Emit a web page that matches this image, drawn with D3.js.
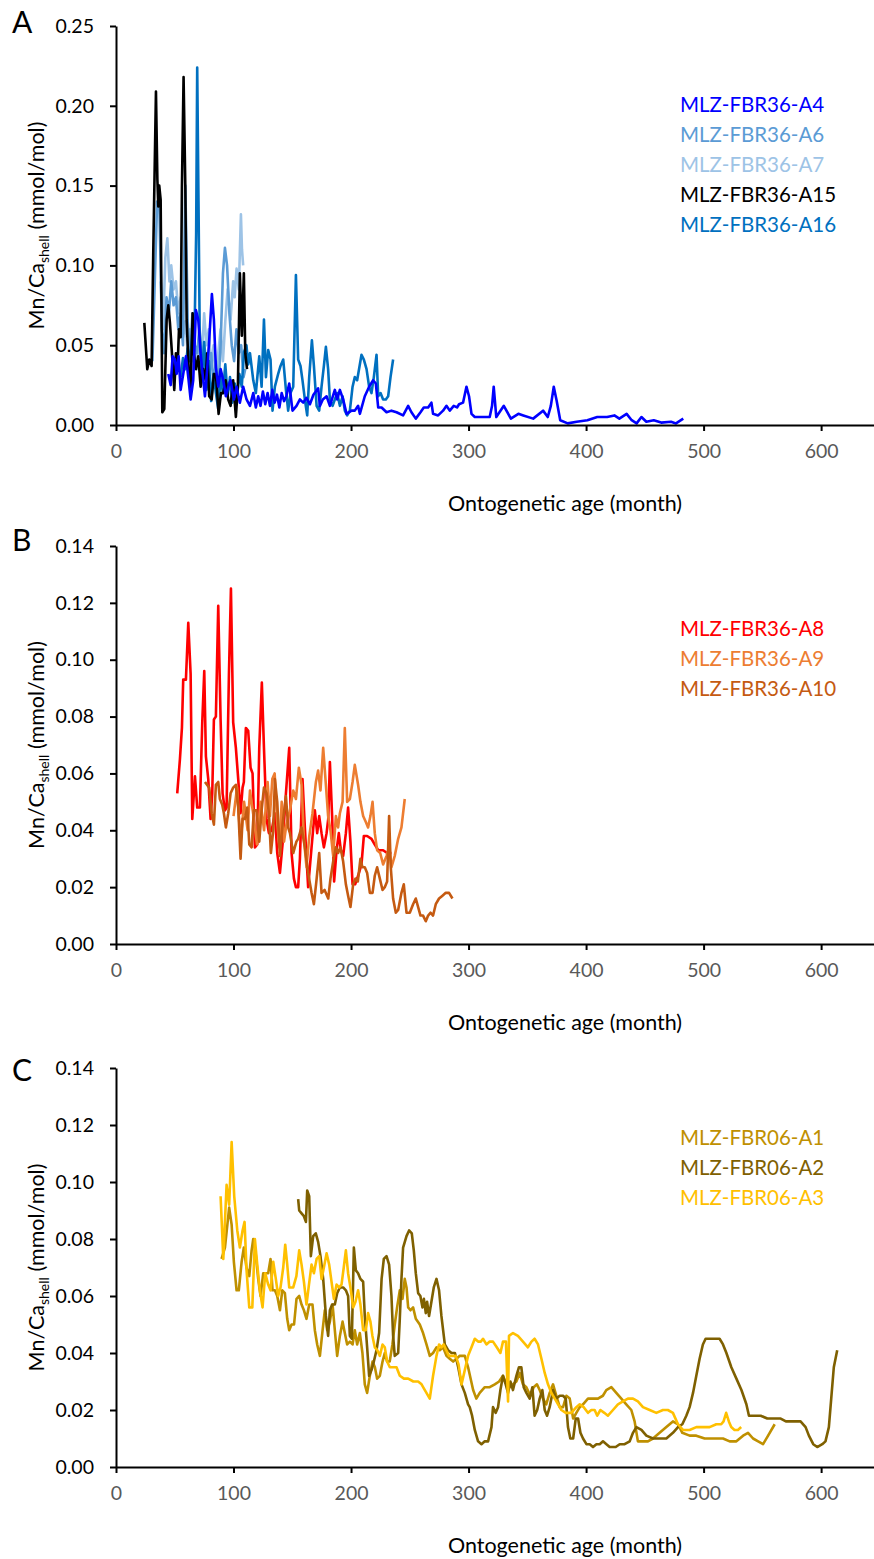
<!DOCTYPE html>
<html><head><meta charset="utf-8">
<script src="https://cdn.jsdelivr.net/npm/d3@7"></script>
<style>
html,body{margin:0;padding:0;background:#fff;}
svg{display:block;font-family:Lato,"Open Sans",sans-serif;}
</style></head>
<body>
<svg id="chart" width="874" height="1559"></svg>
<script>
// ---------------- DATA ----------------
const xTicks = [0, 100, 200, 300, 400, 500, 600];
const yTicksA = [0, 0.05, 0.10, 0.15, 0.20, 0.25];
const yTicksBC = [0, 0.02, 0.04, 0.06, 0.08, 0.10, 0.12, 0.14];
const xTitle = "Ontogenetic age (month)";
const panelLetters = ["A", "B", "C"];

// Panel A series [age, Mn/Ca]
const a4 = [[44.5,0.032],[46.5,0.025],[48.2,0.043],[50.2,0.041],[51.6,0.032],[53.3,0.043],[55,0.022],[57.2,0.032],[59.5,0.043],[61.8,0.028],[63.5,0.016],[65.7,0.028],[68,0.072],[70,0.066],[72,0.045],[73.7,0.032],[75.7,0.018],[77.6,0.035],[79.3,0.053],[81.6,0.082],[83.3,0.066],[85,0.036],[87,0.024],[89,0.035],[91.3,0.028],[93.5,0.018],[95.5,0.024],[97.5,0.028],[100.3,0.016],[102.6,0.024],[105.4,0.014],[108.2,0.024],[111.1,0.016],[114,0.012],[116.8,0.020],[119,0.011],[121,0.018],[123,0.012],[125,0.021],[127,0.013],[129,0.020],[131,0.012],[133,0.022],[135,0.014],[137,0.019],[139,0.011],[141,0.020],[143,0.015],[145,0.018],[147.4,0.026],[150.2,0.009],[153.6,0.012],[156.5,0.016],[159.3,0.014],[162,0.017],[165,0.013],[168,0.019],[172,0.023],[173.5,0.012],[176,0.016],[179.2,0.018],[182,0.012],[186.2,0.022],[188.2,0.016],[190.5,0.022],[193.3,0.016],[196.2,0.007],[200.4,0.009],[203.2,0.009],[206,0.012],[207.5,0.007],[211.7,0.018],[215.4,0.024],[218.8,0.028],[221.1,0.026],[223.1,0.011],[226,0.011],[230.2,0.008],[234.4,0.009],[238.7,0.008],[244.3,0.006],[248.6,0.012],[251.4,0.008],[255.1,0.004],[259.1,0.008],[261.9,0.011],[265.6,0.011],[268.4,0.014],[269.8,0.007],[274.1,0.006],[278.3,0.009],[281.2,0.012],[284,0.009],[287.4,0.012],[290.2,0.011],[291.9,0.013],[295.3,0.014],[298.2,0.024],[300.4,0.018],[302.5,0.007],[305.3,0.005],[309.5,0.005],[313.8,0.005],[318,0.005],[320,0.012],[321.4,0.024],[323.6,0.005],[330,0.012],[336,0.004],[342.4,0.007],[346.6,0.006],[355,0.004],[363.4,0.009],[367.4,0.005],[370,0.012],[372.5,0.024],[375,0.015],[378,0.003],[384.4,0.001],[392,0.002],[401.1,0.003],[409.5,0.005],[417.9,0.005],[424.1,0.006],[428.3,0.004],[434.5,0.007],[438.8,0.003],[443,0.001],[447.1,0.005],[451.3,0.002],[457.6,0.003],[463.9,0.0015],[472.3,0.002],[476.5,0.001],[482.7,0.004]];
const a6 = [[31,0.040],[33,0.090],[35,0.140],[37,0.135],[39,0.060],[41,0.045],[43,0.080],[45,0.070],[47,0.090],[49,0.075],[51,0.080],[53,0.060],[55,0.070],[57,0.050],[59,0.150],[61,0.065],[63,0.040],[65,0.070],[67,0.050],[69,0.045],[71,0.060],[73,0.030],[75,0.050],[77,0.040],[79,0.030],[81,0.045],[83,0.025],[85,0.040],[87,0.020],[89,0.050],[91,0.095],[92.7,0.111],[94.5,0.100],[96.5,0.070],[98.5,0.050],[100.5,0.040],[102.5,0.060],[104.5,0.045],[106.5,0.050],[108.5,0.030],[110,0.035]];
const a7 = [[38,0.090],[40,0.060],[42,0.105],[43.7,0.117],[45.5,0.090],[47,0.100],[49,0.085],[51,0.090],[53,0.070],[55,0.080],[57,0.055],[59,0.065],[61,0.045],[63,0.060],[65,0.040],[67,0.050],[69,0.035],[71,0.060],[73,0.040],[75,0.070],[77,0.050],[79,0.060],[81,0.035],[83,0.050],[85,0.030],[87,0.045],[89,0.060],[91,0.040],[93,0.065],[95,0.085],[97.5,0.066],[99.7,0.090],[101,0.080],[102.6,0.098],[104.5,0.085],[106.3,0.132],[107.2,0.110],[108.2,0.100]];
const a15 = [[24.1,0.064],[26.6,0.035],[28.3,0.041],[30.3,0.037],[31.7,0.108],[34.0,0.209],[35.2,0.154],[36.0,0.137],[36.8,0.150],[38.0,0.141],[39.4,0.008],[41.1,0.010],[43.1,0.066],[44.5,0.075],[45.9,0.064],[47.6,0.045],[49.6,0.022],[51.0,0.045],[52.4,0.036],[53.6,0.060],[55.0,0.055],[56.1,0.149],[57.5,0.218],[59.0,0.149],[60.1,0.066],[61.8,0.036],[63.5,0.022],[65.2,0.070],[66.3,0.045],[68.0,0.035],[70.0,0.043],[72.0,0.024],[74.3,0.035],[76.3,0.028],[77.6,0.045],[79.3,0.018],[81.4,0.016],[83.3,0.032],[85.0,0.032],[87.3,0.007],[89.3,0.020],[91.3,0.020],[93.3,0.028],[95.5,0.016],[97.5,0.012],[99.7,0.028],[102.0,0.005],[103.7,0.024],[105.4,0.095],[107.1,0.056],[108.8,0.095],[110.0,0.045],[111.5,0.035]];
const a16 = [[55,0.030],[57,0.042],[59,0.035],[61,0.048],[63,0.040],[65,0.058],[67,0.065],[68.2,0.12],[69.1,0.224],[70.2,0.14],[71.2,0.06],[73,0.03],[75,0.052],[77,0.022],[79,0.04],[81,0.015],[83,0.032],[85,0.02],[87,0.01],[89,0.03],[91,0.02],[93,0.038],[95,0.018],[97,0.03],[99,0.014],[101,0.026],[103,0.018],[105,0.032],[107,0.024],[109,0.046],[111,0.05],[112.5,0.038],[114,0.045],[116.8,0.028],[119,0.020],[121.9,0.043],[123.9,0.024],[125.9,0.066],[127.6,0.030],[129.5,0.047],[131.5,0.041],[133.2,0.009],[135.2,0.024],[138,0.032],[140,0.037],[142.3,0.041],[144.6,0.022],[146.5,0.009],[148.5,0.020],[150.8,0.024],[153.1,0.094],[155,0.041],[157,0.037],[158.7,0.028],[160.7,0.016],[162.7,0.006],[164.4,0.030],[166.7,0.053],[168.4,0.037],[170.7,0.012],[172.9,0.009],[174.9,0.024],[176.9,0.037],[178.6,0.049],[180.5,0.035],[182,0.016],[184.3,0.012],[186.2,0.016],[188.2,0.020],[190.5,0.012],[192.8,0.018],[194.7,0.009],[196.7,0.006],[199,0.009],[201.3,0.024],[203.2,0.030],[205.2,0.028],[208.9,0.044],[210.9,0.041],[213.2,0.035],[215.4,0.024],[217.4,0.020],[219.4,0.030],[221.7,0.044],[223.1,0.018],[225.1,0.020],[227.3,0.016],[229.6,0.016],[231.6,0.018],[233.6,0.030],[235.8,0.041]];

// Panel B series
const a8 = [[52.1,0.053],[54.4,0.065],[56.1,0.076],[57.2,0.093],[59.5,0.093],[61.5,0.113],[63.5,0.095],[64.9,0.044],[67.2,0.059],[69.1,0.048],[71.4,0.048],[73.4,0.078],[75.1,0.096],[76.5,0.066],[78.5,0.058],[80.5,0.044],[81.9,0.053],[83.3,0.079],[85,0.080],[87,0.119],[89,0.079],[90.7,0.053],[92.7,0.047],[94.1,0.048],[96.1,0.095],[97.8,0.125],[99.7,0.078],[102,0.069],[104,0.058],[106,0.046],[107.7,0.055],[108.8,0.057],[110.5,0.076],[112.5,0.075],[114.5,0.062],[116.2,0.060],[118.2,0.034],[120.2,0.035],[121.9,0.069],[124.1,0.092],[125.9,0.069],[128.1,0.044],[130.1,0.039],[132.5,0.040],[135.2,0.046],[137.2,0.032],[139.5,0.025],[141.7,0.035],[144.6,0.053],[147.4,0.069],[149.4,0.032],[151.4,0.023],[153.1,0.020],[155,0.020],[156.5,0.030],[158.7,0.058],[160.7,0.041],[163.5,0.020],[166.4,0.034],[169.2,0.047],[171.2,0.039],[172.9,0.045],[174.9,0.039],[176.9,0.034],[179.2,0.039],[180.6,0.044],[182,0.064],[183.9,0.045],[185.6,0.022],[187.7,0.033],[189.6,0.039],[191.3,0.033],[193.3,0.031],[195.6,0.039],[197.5,0.048],[199.5,0.036],[201.3,0.021],[203.5,0.021],[206,0.024],[208.9,0.028],[210.9,0.038],[213.7,0.038],[217.4,0.037],[220.2,0.035],[223.1,0.033],[227.3,0.033],[230.7,0.032],[234.4,0.032]];
const a9 = [[100,0.045],[103,0.055],[106,0.036],[109,0.050],[112,0.040],[114,0.054],[117,0.045],[120,0.035],[123,0.050],[126,0.040],[129,0.057],[131,0.045],[133,0.058],[135,0.060],[137,0.044],[139,0.034],[141,0.050],[143,0.036],[145,0.042],[148,0.047],[150.8,0.054],[153.1,0.051],[155.6,0.062],[157.9,0.056],[159.9,0.037],[162.1,0.027],[164.5,0.038],[167.2,0.046],[170.1,0.057],[172,0.061],[174,0.054],[176.3,0.069],[178.6,0.056],[180.5,0.045],[182.5,0.040],[184.8,0.031],[187.1,0.045],[189,0.041],[190.5,0.046],[192.8,0.050],[194.7,0.076],[196.7,0.050],[199,0.051],[201.3,0.057],[203.2,0.063],[206,0.056],[208,0.050],[210.3,0.045],[212.5,0.043],[214.5,0.041],[216.5,0.045],[218.3,0.050],[220.2,0.039],[222.2,0.033],[224.8,0.032],[227.3,0.028],[230.2,0.031],[232.4,0.034],[234.4,0.027],[237.2,0.031],[240.1,0.037],[242.9,0.041],[245.7,0.051]];
const a10 = [[75.7,0.057],[79.3,0.055],[81.4,0.046],[83.3,0.042],[85,0.056],[87,0.057],[88.4,0.051],[90.4,0.049],[91.8,0.046],[93.5,0.041],[95.5,0.046],[97.5,0.053],[99.7,0.055],[102,0.056],[104,0.048],[106,0.030],[107.7,0.044],[109.7,0.044],[111.7,0.048],[113.4,0.035],[115.4,0.034],[117.3,0.047],[119.5,0.047],[121.9,0.036],[123.9,0.047],[125.9,0.055],[128.1,0.053],[130.1,0.046],[131.8,0.032],[133.8,0.040],[135.2,0.058],[137.2,0.050],[139.5,0.031],[141.7,0.042],[144.6,0.052],[146.5,0.041],[148,0.039],[150.8,0.032],[153.5,0.036],[155,0.037],[157.9,0.041],[160.7,0.034],[163.5,0.025],[166.4,0.018],[168.4,0.014],[170.5,0.022],[172.9,0.032],[174.9,0.018],[177.5,0.019],[180.6,0.016],[182.5,0.023],[184.8,0.029],[187.1,0.034],[189,0.032],[191,0.034],[193.3,0.029],[195.6,0.021],[197.5,0.017],[199.5,0.013],[201.8,0.021],[203.8,0.023],[205.8,0.022],[208,0.030],[209.7,0.027],[211.7,0.027],[213.7,0.025],[216,0.018],[218.3,0.018],[220.2,0.024],[222.2,0.027],[224.5,0.023],[226.8,0.019],[228.7,0.020],[230.7,0.022],[232.4,0.045],[233.8,0.027],[235.8,0.016],[238.1,0.011],[240.1,0.012],[242.9,0.018],[244.9,0.021],[247.2,0.011],[250,0.011],[252.8,0.014],[255.1,0.016],[257.1,0.013],[259.1,0.010],[261.3,0.010],[263.6,0.008],[265.6,0.010],[267.6,0.011],[269.8,0.010],[272.1,0.014],[274.9,0.016],[277.8,0.017],[280.6,0.018],[283.4,0.018],[286.3,0.016]];

// Panel C series
const c1 = [[89.8,0.073],[92.7,0.077],[96.3,0.091],[98.4,0.085],[100.3,0.072],[102.6,0.062],[104.5,0.062],[106.9,0.072],[108.8,0.077],[111,0.070],[113.4,0.067],[115.4,0.076],[116.8,0.080],[118.8,0.075],[121,0.066],[123,0.060],[125.3,0.068],[127.6,0.068],[129.5,0.068],[131.5,0.073],[133.2,0.062],[135.2,0.062],[137.2,0.060],[139.5,0.055],[141.5,0.062],[143.7,0.061],[145.7,0.052],[147.4,0.048],[149.4,0.050],[151.5,0.050],[153.6,0.059],[155.9,0.060],[157.9,0.057],[159.9,0.055],[162.1,0.052],[164.4,0.057],[167.2,0.057],[169.2,0.048],[171.2,0.043],[173.5,0.039],[175.8,0.048],[177.7,0.055],[179.7,0.048],[182,0.051],[184.3,0.057],[186.2,0.048],[188.2,0.039],[190.5,0.046],[192.8,0.051],[194.7,0.047],[196.7,0.043],[199,0.044],[201.3,0.043],[203.2,0.048],[205.2,0.043],[207.5,0.047],[209.7,0.040],[211.7,0.029],[213.7,0.026],[216,0.032],[218.3,0.037],[220.3,0.035],[222.2,0.031],[224.5,0.032],[226.8,0.037],[228.7,0.040],[230.7,0.037],[232.9,0.037],[235.2,0.043],[237.2,0.050],[239.2,0.056],[241.5,0.062],[243.8,0.059],[245.7,0.066],[247.2,0.063],[248.6,0.056],[250.6,0.055],[252.8,0.056],[255.1,0.052],[258.5,0.050],[261.3,0.047],[264.2,0.043],[267,0.039],[269.8,0.040],[272.7,0.042],[275.5,0.041],[278.3,0.042],[281.2,0.039],[284,0.038],[286.9,0.037],[289.7,0.038],[292.5,0.039],[296.8,0.039],[299.6,0.035],[303.9,0.027],[306.6,0.024],[309.5,0.026],[313.8,0.028],[318,0.028],[322.3,0.029],[326,0.030],[329.3,0.032],[332.2,0.029],[335,0.028],[337.8,0.029],[340.7,0.030],[343.5,0.033],[346.3,0.029],[349.2,0.028],[352.6,0.025],[355.4,0.028],[358.2,0.029],[360.5,0.027],[363.3,0.024],[366.1,0.022],[369,0.026],[371.9,0.029],[374.7,0.025],[377.6,0.021],[380.4,0.021],[383.2,0.025],[386.1,0.024],[389,0.017],[391.7,0.019],[394.6,0.021],[397.4,0.022],[401.6,0.024],[405.9,0.024],[410.1,0.024],[414.3,0.025],[417.2,0.027],[421.5,0.028],[425.7,0.026],[430,0.024],[434.2,0.022],[438.5,0.020],[441.3,0.016],[444.1,0.009],[448.4,0.009],[452.6,0.009],[456.9,0.010],[462.6,0.012],[468.3,0.014],[473.9,0.016],[478.2,0.015],[481.9,0.012],[488.1,0.011],[493.8,0.011],[500.9,0.010],[508,0.010],[516.5,0.010],[522.2,0.009],[527.9,0.009],[533.6,0.011],[537.8,0.012],[542.1,0.010],[546.4,0.009],[550.6,0.008],[554.9,0.011],[560.5,0.015]];
const c2 = [[155,0.094],[155.9,0.090],[157.9,0.089],[159.9,0.088],[161.6,0.086],[162.7,0.097],[164.4,0.095],[165.8,0.074],[167.8,0.081],[170,0.082],[172,0.079],[174,0.074],[176.3,0.066],[178.6,0.053],[180.5,0.046],[182,0.055],[183.9,0.057],[186.2,0.057],[188.2,0.061],[190.5,0.063],[193.3,0.063],[195.6,0.062],[197.5,0.060],[199,0.046],[200.7,0.045],[202.4,0.077],[204.1,0.069],[206,0.068],[208,0.066],[210.3,0.065],[211.7,0.053],[213.7,0.042],[215.4,0.032],[217.4,0.034],[219.4,0.037],[221.7,0.041],[223.9,0.047],[226,0.066],[227.9,0.073],[230.2,0.074],[232.4,0.071],[234.4,0.060],[235.8,0.046],[237.2,0.039],[240.1,0.040],[241.5,0.052],[242.9,0.066],[244.3,0.077],[247.2,0.081],[249.4,0.083],[251.7,0.082],[253.4,0.076],[255.1,0.068],[257.1,0.061],[259,0.060],[260.8,0.056],[262,0.059],[263.6,0.054],[264.7,0.058],[266.4,0.053],[268.4,0.058],[270.4,0.063],[272.7,0.066],[274.9,0.062],[276.9,0.053],[279.8,0.043],[282.6,0.041],[285.5,0.040],[288.4,0.040],[291.2,0.035],[294,0.029],[296.8,0.026],[299.6,0.022],[301,0.021],[303,0.018],[305.3,0.013],[308.1,0.009],[311,0.008],[313.8,0.009],[316.6,0.009],[319.5,0.014],[320.8,0.021],[323.1,0.019],[325.1,0.021],[327.1,0.027],[329.3,0.032],[331.6,0.029],[333.6,0.026],[335.6,0.030],[337.8,0.027],[340.7,0.032],[342.9,0.035],[344.9,0.035],[346.9,0.028],[349.2,0.026],[352,0.024],[354.3,0.028],[356.2,0.018],[358.4,0.020],[360.5,0.024],[362.8,0.027],[364.8,0.020],[366.8,0.018],[369,0.021],[371.9,0.027],[374.7,0.024],[377.6,0.025],[380.4,0.025],[382.7,0.024],[384.6,0.014],[386.6,0.010],[389,0.010],[391.2,0.017],[393.2,0.017],[395.2,0.012],[397.4,0.010],[400.3,0.008],[403.1,0.008],[405.9,0.007],[408.8,0.008],[411.6,0.008],[414.4,0.009],[417.3,0.008],[420.1,0.007],[422.4,0.007],[425.2,0.007],[428.6,0.008],[432.8,0.008],[437.1,0.009],[439.9,0.012],[442.8,0.014],[447.1,0.013],[451.3,0.011],[456.9,0.010],[462.6,0.010],[468.3,0.010],[473.9,0.012],[478.2,0.014],[481.9,0.015],[485.3,0.018],[488.1,0.021],[491,0.026],[493.8,0.032],[496.6,0.038],[499.4,0.043],[501.7,0.045],[508,0.045],[513.6,0.045],[516.5,0.043],[519.4,0.040],[523.6,0.035],[527.9,0.031],[532.2,0.027],[536.4,0.022],[538.6,0.018],[542.9,0.018],[548.6,0.018],[554.2,0.017],[559.9,0.017],[565.6,0.017],[570,0.016],[574.1,0.016],[578.3,0.016],[582.5,0.016],[586.8,0.014],[589.6,0.011],[593.3,0.008],[596.7,0.007],[601,0.008],[603.7,0.009],[606.6,0.014],[608.6,0.024],[610.8,0.035],[613.7,0.041]];
const c3 = [[89,0.095],[91.3,0.073],[94.1,0.099],[96.3,0.092],[98.4,0.114],[100.6,0.095],[103.2,0.083],[105.4,0.077],[107.7,0.083],[109.4,0.086],[111.1,0.069],[113.4,0.056],[116,0.056],[118.2,0.080],[120.2,0.071],[122.4,0.062],[124.7,0.056],[127,0.068],[129.5,0.064],[131.5,0.062],[133.8,0.072],[136,0.066],[138,0.060],[140,0.063],[142.3,0.070],[144,0.078],[145.7,0.071],[147.4,0.063],[150.8,0.063],[153.5,0.067],[155.9,0.076],[157.9,0.071],[159.9,0.065],[162.1,0.057],[164.2,0.064],[166.4,0.071],[168.4,0.068],[170.7,0.073],[172.9,0.074],[174.9,0.066],[176.9,0.070],[179.2,0.075],[181.4,0.071],[183.4,0.065],[185.4,0.059],[187.7,0.064],[189.8,0.063],[191.9,0.064],[193.8,0.070],[195.6,0.076],[197.5,0.068],[199.5,0.063],[201.8,0.056],[203.8,0.058],[206,0.062],[208,0.057],[210.3,0.048],[212.6,0.048],[214.5,0.054],[216.5,0.051],[218.2,0.046],[220.2,0.042],[222.3,0.041],[224.5,0.039],[226.8,0.043],[228.7,0.042],[230.7,0.037],[233,0.035],[235.8,0.035],[238.7,0.035],[241.5,0.032],[245,0.031],[248.6,0.031],[253,0.030],[257.1,0.030],[260,0.029],[262.8,0.027],[267,0.024],[269.8,0.032],[272.7,0.039],[274.9,0.043],[276.9,0.042],[278.9,0.043],[281,0.041],[283.4,0.039],[286.3,0.039],[289.1,0.039],[291.5,0.036],[294,0.029],[296.8,0.034],[299.6,0.039],[302.5,0.042],[305.3,0.045],[308.1,0.044],[310.5,0.044],[312.3,0.045],[315.2,0.043],[318,0.044],[320.8,0.044],[324,0.042],[327.1,0.040],[329.3,0.044],[331.8,0.044],[333.6,0.023],[334.4,0.046],[337.8,0.047],[342,0.046],[346.3,0.044],[350.5,0.042],[353.5,0.044],[356.2,0.045],[359.1,0.043],[362,0.038],[364.8,0.033],[367.6,0.029],[370.5,0.026],[374.7,0.023],[379,0.020],[382.7,0.019],[387.5,0.019],[391.7,0.021],[394.6,0.022],[398,0.021],[401.6,0.019],[404.5,0.020],[407.3,0.020],[409.5,0.018],[412.2,0.020],[415.5,0.019],[418.6,0.018],[422.9,0.020],[427.1,0.022],[431.4,0.023],[435.6,0.024],[439.9,0.024],[444.1,0.023],[448.4,0.021],[454.1,0.020],[459.8,0.019],[465.4,0.020],[469.6,0.020],[473.9,0.019],[478.2,0.015],[482.4,0.013],[488.1,0.013],[493.8,0.014],[499.4,0.014],[505.1,0.014],[510.8,0.015],[515,0.015],[517,0.016],[519.2,0.019],[521.5,0.016],[523.5,0.014],[526.3,0.013],[529.2,0.013],[532,0.014]];

const namesA = ["MLZ-FBR36-A4","MLZ-FBR36-A6","MLZ-FBR36-A7","MLZ-FBR36-A15","MLZ-FBR36-A16"];
const namesB = ["MLZ-FBR36-A8","MLZ-FBR36-A9","MLZ-FBR36-A10"];
const namesC = ["MLZ-FBR06-A1","MLZ-FBR06-A2","MLZ-FBR06-A3"];

// ---------------- STYLE / LAYOUT ----------------
const colorsA = ["#0000ff","#5b9bd5","#9dc3e6","#000000","#0070c0"];
const colorsB = ["#ff0000","#ed7d31","#c55a11"];
const colorsC = ["#bf9000","#7f6000","#ffc000"];

const panels = [
  {letter: panelLetters[0], top: 26, bottom: 425, yMax: 0.25, ticks: yTicksA, letterY: 33,
   series: [a4,a6,a7,a15,a16], names: namesA, colors: colorsA, drawOrder: [2,1,4,3,0], legendY: 112},
  {letter: panelLetters[1], top: 546, bottom: 944, yMax: 0.14, ticks: yTicksBC, letterY: 551,
   series: [a8,a9,a10], names: namesB, colors: colorsB, drawOrder: [0,1,2], legendY: 636},
  {letter: panelLetters[2], top: 1068, bottom: 1467, yMax: 0.14, ticks: yTicksBC, letterY: 1081,
   series: [c1,c2,c3], names: namesC, colors: colorsC, drawOrder: [0,1,2], legendY: 1145}
];

const svg = d3.select("#chart");
const x = d3.scaleLinear().domain([0, 645]).range([116, 874]);
const fmt = d3.format(".2f");

panels.forEach(p => {
  const y = d3.scaleLinear().domain([0, p.yMax]).range([p.bottom, p.top]);
  const g = svg.append("g");

  const line = d3.line().x(d => x(d[0])).y(d => y(d[1]));
  p.drawOrder.forEach(i => {
    g.append("path").datum(p.series[i])
      .attr("d", line).attr("fill", "none")
      .attr("stroke", p.colors[i]).attr("stroke-width", 2.6)
      .attr("stroke-linejoin", "round");
  });

  const yAx = g.append("g").attr("transform", `translate(${x(0)},0)`)
    .call(d3.axisLeft(y).tickValues(p.ticks).tickFormat(fmt).tickSize(6).tickSizeOuter(0).tickPadding(16));
  yAx.select(".domain").attr("stroke", "#000").attr("stroke-width", 2);
  yAx.selectAll(".tick line").attr("stroke", "#000").attr("stroke-width", 2);
  yAx.selectAll(".tick text").attr("fill", "#000").style("font-size", "19.5px")
    .style("font-family", "Lato, 'Open Sans', sans-serif");

  const xAx = g.append("g").attr("transform", `translate(0,${p.bottom})`)
    .call(d3.axisBottom(x).tickValues(xTicks).tickFormat(d3.format("d")).tickSize(6).tickSizeOuter(0));
  xAx.select(".domain").attr("stroke", "#000").attr("stroke-width", 2);
  xAx.selectAll(".tick line").attr("stroke", "#000").attr("stroke-width", 2);
  xAx.selectAll(".tick text").attr("fill", "#595959").attr("y", 33).attr("dy", 0)
    .style("font-size", "19.5px").style("font-family", "Lato, 'Open Sans', sans-serif");

  g.append("text").attr("x", 565).attr("y", p.bottom + 86).attr("text-anchor", "middle")
    .style("font-size", "21.5px").attr("fill", "#000").text(xTitle);

  const yt = g.append("text")
    .attr("transform", `translate(44,${(p.top + p.bottom) / 2}) rotate(-90)`)
    .attr("text-anchor", "middle").style("font-size", "21.5px").attr("fill", "#000");
  yt.append("tspan").text("Mn/Ca");
  yt.append("tspan").attr("dy", 5).style("font-size", "14px").text("shell");
  yt.append("tspan").attr("dy", -5).text(" (mmol/mol)");

  g.append("text").attr("x", 12).attr("y", p.letterY).style("font-size", "30px")
    .attr("fill", "#000").text(p.letter);

  p.names.forEach((n, i) => {
    g.append("text").attr("x", 680).attr("y", p.legendY + i * 30)
      .style("font-size", "20.5px").attr("fill", p.colors[i]).text(n);
  });
});
</script>
</body></html>
